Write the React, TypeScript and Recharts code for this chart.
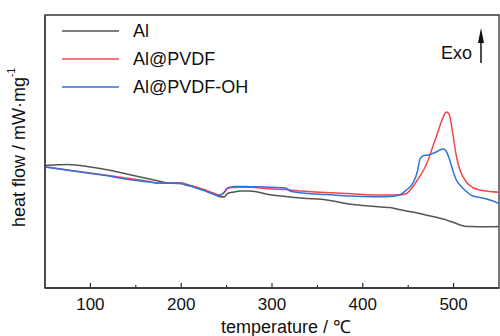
import { LineChart, Line, XAxis, YAxis, ReferenceArea, Legend } from "recharts";

// temperature grid (°C) shared by all three DSC curves
const temps = [
  50, 60, 75, 100, 120, 135, 155, 165, 170, 175, 185, 200, 205, 215, 225, 235,
  242, 247, 251, 258, 265, 275, 300, 315, 320, 325, 340, 360, 385, 400, 420,
  430, 440, 448, 455, 460, 463, 467, 472, 477, 482, 486, 489, 492, 495, 499,
  503, 507, 514, 521, 529, 540, 550,
];

// heat flow, arbitrary units (no y scale shown)
const al = [
  122.5, 123, 123.5, 121, 118, 115, 111, 109, 108, 107, 105, 104.5, 103, 101,
  98, 94.5, 91.5, 91, 94.5, 96, 97, 97, 93, 91.5, 91, 90.5, 89.5, 88, 84, 82.5,
  81, 80.5, 78.5, 77, 76, 75, 74.5, 73.5, 72.5, 71.5, 70.5, 69.5, 69, 68, 67,
  66, 64.5, 63, 61.5, 61.5, 61.2, 61.2, 61.5,
];
const alPvdf = [
  121.3, 120, 118, 115, 112.5, 110.5, 108, 106.5, 105.3, 105, 105, 105.3, 104,
  101.3, 98.5, 95, 93, 95, 99.5, 100.5, 100.7, 100.7, 99, 98.5, 98, 97.5, 96.5,
  95.5, 94.5, 93.5, 93, 93, 93, 94.5, 101, 108, 112, 118, 128, 141.3, 154, 165,
  172, 176, 174, 155, 132, 118, 106, 100.5, 98, 96.5, 95.7,
];
const alPvdfOh = [
  121, 119.7, 117.7, 114.5, 112, 109.5, 107, 106, 105.5, 105, 104.8, 104.5,
  103.5, 100.5, 97.5, 94, 92.5, 95.5, 100, 101.5, 101.5, 101.3, 100.7, 100, 97,
  96, 94.5, 93.5, 92, 91.5, 91.3, 91.5, 93, 98, 104.7, 116, 129, 132.5, 133,
  134.5, 136.5, 138.5, 139, 136.5, 130, 118, 108, 103, 96.5, 92, 90.5, 88,
  84.5,
];

const xTicks = [100, 150, 200, 250, 300, 350, 400, 450, 500];

const series = [
  { key: "al", name: "Al", color: "#555555" },
  { key: "pvdf", name: "Al@PVDF", color: "#f0484a" },
  { key: "oh", name: "Al@PVDF-OH", color: "#2e72de" },
];

const data = temps.map((t, i) => ({
  t,
  al: al[i],
  pvdf: alPvdf[i],
  oh: alPvdfOh[i],
}));

const FONT = "'Liberation Sans', Arial, sans-serif";

const XTick = (props: any) => {
  const { x, y, payload } = props;
  const major = payload.value % 100 === 0;
  return (
    <g>
      <line x1={x} x2={x} y1={y} y2={y - (major ? 5 : 3)} stroke="#333" strokeWidth={1.2} />
      {major && (
        <text x={x} y={y + 22} textAnchor="middle" fontSize={17} fontFamily={FONT} fill="#111">
          {payload.value}
        </text>
      )}
    </g>
  );
};

const LegendBox = () => (
  <div style={{ fontFamily: FONT, fontSize: 18, color: "#111" }}>
    {series.map((s) => (
      <div key={s.key} style={{ display: "flex", alignItems: "center", height: 28 }}>
        <svg width={57} height={4} style={{ marginRight: 14 }}>
          <line x1={0} x2={57} y1={2} y2={2} stroke={s.color} strokeWidth={1.6} />
        </svg>
        <span>{s.name}</span>
      </div>
    ))}
  </div>
);

export default function App() {
  return (
    <div style={{ position: "absolute", left: 0, top: 0, width: 500, height: 336, background: "#fff" }}>
      <LineChart width={500} height={336} data={data} margin={{ top: 15, right: 1, bottom: 0, left: 0 }}>
        <XAxis
          dataKey="t"
          type="number"
          domain={[50, 550]}
          allowDataOverflow
          ticks={xTicks}
          interval={0}
          height={48}
          tickSize={0}
          tickMargin={0}
          tickLine={false}
          tick={<XTick />}
          axisLine={{ stroke: "#333", strokeWidth: 1.3 }}
          label={{
            content: (p: any) => {
              const vb = p.viewBox;
              return (
                <text x={vb.x + vb.width / 2 + 14} y={vb.y + 45} textAnchor="middle" fontSize={18} fontFamily={FONT} fill="#111">
                  temperature / ℃
                </text>
              );
            },
          }}
        />
        <YAxis
          type="number"
          domain={[0, 273]}
          allowDataOverflow
          width={45}
          tick={false}
          tickLine={false}
          axisLine={{ stroke: "#333", strokeWidth: 1.3 }}
          label={{
            content: (p: any) => {
              const vb = p.viewBox;
              const cx = 19;
              const cy = vb.y + vb.height / 2 - 4;
              return (
                <text
                  x={cx}
                  y={cy}
                  transform={`rotate(-90 ${cx} ${cy})`}
                  textAnchor="middle"
                  dominantBaseline="central"
                  fontSize={18}
                  fontFamily={FONT}
                  fill="#111"
                >
                  heat flow / mW·mg
                  <tspan fontSize={10} dy={-8}>-1</tspan>
                </text>
              );
            },
          }}
        />
        <ReferenceArea x1={50} x2={550} y1={0} y2={273} fill="none" stroke="#333" strokeWidth={1.3} ifOverflow="visible" />
        <Legend
          layout="vertical"
          verticalAlign="middle"
          align="center"
          content={<LegendBox />}
          wrapperStyle={{ top: 17, left: 62, width: "auto" }}
        />
        {series.map((s) => (
          <Line
            key={s.key}
            dataKey={s.key}
            name={s.name}
            type="monotone"
            stroke={s.color}
            strokeWidth={1.5}
            dot={false}
            isAnimationActive={false}
          />
        ))}
      </LineChart>
      <svg width={500} height={336} style={{ position: "absolute", left: 0, top: 0, pointerEvents: "none" }}>
        <text x={441} y={59} fontSize={18} fontFamily={FONT} fill="#111">
          Exo
        </text>
        <line x1={481} x2={481} y1={40} y2={63} stroke="#111" strokeWidth={1.5} />
        <polygon points="481,28 478,43 484,43" fill="#111" />
      </svg>
    </div>
  );
}
